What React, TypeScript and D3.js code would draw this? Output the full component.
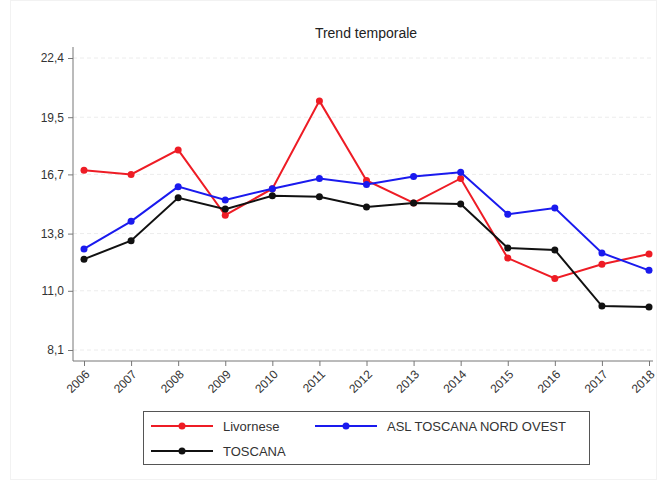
import React, { useEffect, useRef } from "react";
import * as d3 from "d3";

const anni = ["2006", "2007", "2008", "2009", "2010", "2011", "2012", "2013", "2014", "2015", "2016", "2017", "2018"];
const livornese = [16.9, 16.7, 17.9, 14.7, 16.0, 20.3, 16.4, 15.3, 16.5, 12.6, 11.6, 12.3, 12.8];
const aslNordOvest = [13.05, 14.4, 16.1, 15.45, 16.0, 16.5, 16.2, 16.6, 16.8, 14.75, 15.05, 12.85, 12.0];
const toscana = [12.55, 13.45, 15.55, 15.0, 15.65, 15.6, 15.1, 15.3, 15.25, 13.1, 13.0, 10.25, 10.2];
const yTicks = [8.1, 11.0, 13.8, 16.7, 19.5, 22.4];

type Serie = { nome: string, colore: string, valori: number[] };

const serie: Serie[] = [
    { nome: "Livornese", colore: "#ee1c25", valori: livornese },
    { nome: "ASL TOSCANA NORD OVEST", colore: "#1a1aee", valori: aslNordOvest },
    { nome: "TOSCANA", colore: "#111111", valori: toscana },
];

const W = 657, H = 481;
const font = "'Liberation Sans', Arial, sans-serif";

export default function App() {
    const ref = useRef<SVGSVGElement>(null);

    useEffect(() => {
        const svg = d3.select(ref.current);
        svg.selectAll("*").remove();

        // frame
        svg.append("rect").attr("x", 10.5).attr("y", 0.5).attr("width", W - 11).attr("height", H - 2)
            .attr("fill", "white").attr("stroke", "#f2f2f2");

        const x = d3.scalePoint<string>().domain(anni).range([84, 649]);
        const y = d3.scaleLinear().domain([8.1, 22.4]).range([350, 58]);
        const left = 73, bottom = 361, top = 47, right = 653;

        // grid
        svg.append("g").selectAll("line").data(yTicks).join("line")
            .attr("x1", left).attr("x2", right)
            .attr("y1", d => y(d)).attr("y2", d => y(d))
            .attr("stroke", "#ececec").attr("stroke-dasharray", "4,3").attr("stroke-width", 1);

        // y axis
        const gy = svg.append("g").attr("transform", `translate(${left},0)`)
            .call(d3.axisLeft(y).tickValues(yTicks).tickSize(5).tickPadding(4)
                .tickFormat(d => d3.format(".1f")(d as number).replace(".", ",")));
        gy.select(".domain").remove();
        gy.append("line").attr("x1", 0).attr("x2", 0).attr("y1", top).attr("y2", bottom)
            .attr("stroke", "#777");
        gy.selectAll(".tick line").attr("stroke", "#777");
        gy.selectAll(".tick text").attr("fill", "#333").style("font-family", font).style("font-size", "12px");

        // x axis
        const gx = svg.append("g").attr("transform", `translate(0,${bottom})`)
            .call(d3.axisBottom(x).tickSize(5));
        gx.select(".domain").remove();
        gx.append("line").attr("x1", left).attr("x2", right).attr("y1", 0).attr("y2", 0).attr("stroke", "#777");
        gx.selectAll(".tick line").attr("stroke", "#777");
        gx.selectAll(".tick text")
            .attr("fill", "#333")
            .style("font-family", font).style("font-size", "12px")
            .attr("text-anchor", "end")
            .attr("y", 0)
            .attr("dy", "0.35em")
            .attr("transform", "translate(3,11) rotate(-45)");

        // lines
        const line = d3.line<number>().x((_, i) => x(anni[i]) ?? 0).y(d => y(d));
        const gl = svg.append("g");
        serie.forEach(s => {
            gl.append("path").datum(s.valori).attr("d", line)
                .attr("fill", "none").attr("stroke", s.colore).attr("stroke-width", 2);
            gl.selectAll(null).data(s.valori).join("circle")
                .attr("cx", (_, i) => x(anni[i]) ?? 0).attr("cy", d => y(d))
                .attr("r", 3.5).attr("fill", s.colore);
        });

        // title
        svg.append("text").attr("x", 366).attr("y", 38).attr("text-anchor", "middle")
            .style("font-family", font).style("font-size", "14px").attr("fill", "#222")
            .text("Trend temporale");

        // legend
        const lg = svg.append("g");
        lg.append("rect").attr("x", 143.5).attr("y", 411.5).attr("width", 446).attr("height", 53)
            .attr("fill", "white").attr("stroke", "#555");
        const pos = [[151, 426], [315, 426], [151, 451]];
        serie.forEach((s, i) => {
            const [lx, ly] = pos[i];
            lg.append("line").attr("x1", lx).attr("x2", lx + 62).attr("y1", ly).attr("y2", ly)
                .attr("stroke", s.colore).attr("stroke-width", 2);
            lg.append("circle").attr("cx", lx + 31).attr("cy", ly).attr("r", 3.5).attr("fill", s.colore);
            lg.append("text").attr("x", lx + 72).attr("y", ly).attr("dy", "0.35em")
                .style("font-family", font).style("font-size", "13px").attr("fill", "#333")
                .text(s.nome);
        });
    }, []);

    return <svg ref={ref} width={W} height={H} style={{ display: "block", position: "absolute", left: 0, top: 0 }} />;
}
